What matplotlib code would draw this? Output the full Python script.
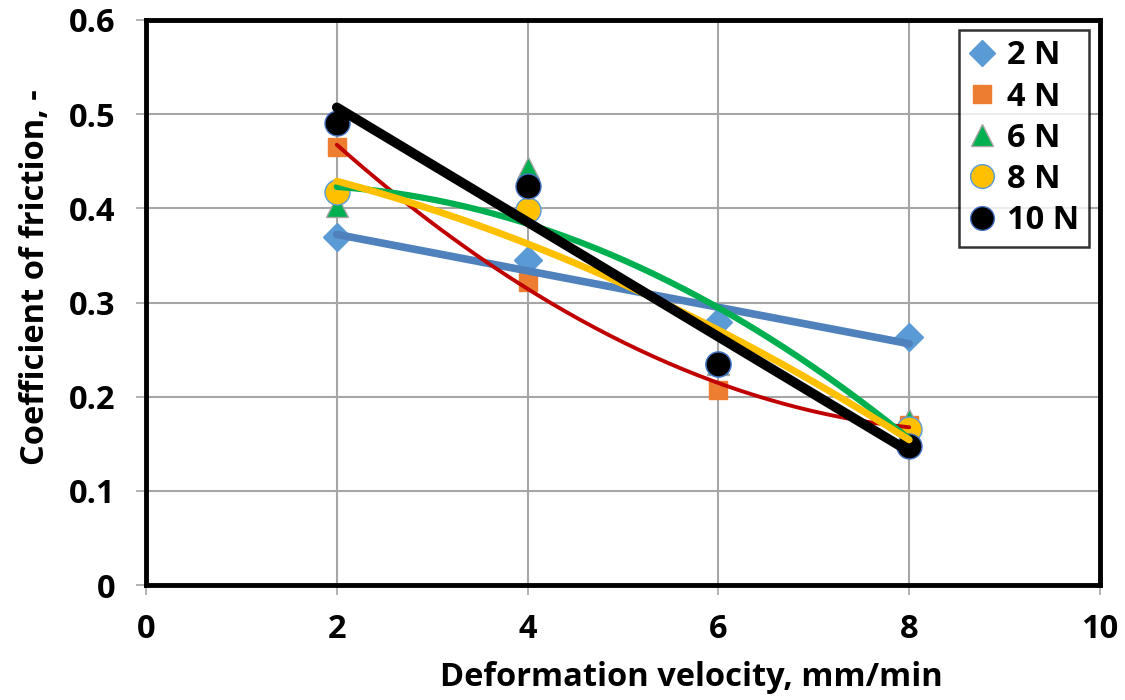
import numpy as np
import matplotlib
matplotlib.use("Agg")
import matplotlib.pyplot as plt

plt.rcParams['font.family'] = ['Open Sans', 'DejaVu Sans']
plt.rcParams['font.weight'] = 'bold'

velocity = [2, 4, 6, 8]
labels = ['2 N', '4 N', '6 N', '8 N', '10 N']
cof_2N = [0.370, 0.345, 0.279, 0.263]
cof_4N = [0.465, 0.322, 0.207, 0.170]
cof_6N = [0.403, 0.443, 0.235, 0.175]
cof_8N = [0.417, 0.398, 0.235, 0.166]
cof_10N = [0.491, 0.424, 0.235, 0.148]
trend_order = [1, 2, 2, 2, 1]

series = [cof_2N, cof_4N, cof_6N, cof_8N, cof_10N]
markers = ['D', 's', '^', 'o', 'o']
msizes = [14, 13, 16, 18, 18]
mfc = ['#5B9BD5', '#ED7D31', '#00B050', '#FFC000', '#000000']
mec = ['#5B9BD5', '#ED7D31', '#A5A5A5', '#5B9BD5', '#4472C4']
line_colors = ['#4F81BD', '#C00000', '#00B050', '#FFC000', '#000000']
line_widths = [5.5, 2.8, 4.5, 5.0, 7.0]

FS = 23.5

fig = plt.figure(figsize=(11.25, 7.0), dpi=100)
ax = fig.add_axes([146/1125, 1-585/700, (1100-146)/1125, (585-20)/700])

handles = []
for y, m, ms, fc, ec, lab in zip(series, markers, msizes, mfc, mec, labels):
    h, = ax.plot(velocity, y, linestyle='none', marker=m, markersize=ms,
                 markerfacecolor=fc, markeredgecolor=ec, markeredgewidth=1.0,
                 label=lab, zorder=3)
    handles.append(h)

xs = np.linspace(velocity[0], velocity[-1], 200)
for y, order, c, lw in zip(series, trend_order, line_colors, line_widths):
    coef = np.polyfit(velocity, y, order)
    ax.plot(xs, np.polyval(coef, xs), color=c, linewidth=lw,
            solid_capstyle='round', zorder=4)

ax.set_xlim(0, 10)
ax.set_ylim(0, 0.6)
ax.set_xticks([0, 2, 4, 6, 8, 10])
ax.set_yticks([0, 0.1, 0.2, 0.3, 0.4, 0.5, 0.6])
ax.set_xticklabels(['0', '2', '4', '6', '8', '10'])
ax.set_yticklabels(['0', '0.1', '0.2', '0.3', '0.4', '0.5', '0.6'])
ax.grid(True, color='#A6A6A6', linewidth=1.5, zorder=0)
ax.set_axisbelow(True)
for s in ax.spines.values():
    s.set_linewidth(3.5)
    s.set_color('black')
ax.tick_params(axis='both', which='major', direction='out', length=7,
               width=1.2, color='#A6A6A6', labelsize=FS)
ax.tick_params(axis='y', pad=15)
ax.tick_params(axis='x', pad=13)
for t in ax.get_xticklabels() + ax.get_yticklabels():
    t.set_fontweight('bold')

ax.set_xlabel('Deformation velocity, mm/min', fontsize=FS, fontweight='bold', labelpad=11)
ax.set_ylabel('Coefficient of friction, -', fontsize=FS, fontweight='bold', labelpad=12)
ax.xaxis.label.set_x(0.572)
ax.yaxis.label.set_y(0.545)

leg = ax.legend(handles=handles, loc='upper right', bbox_to_anchor=(0.988, 0.983),
                frameon=True, fancybox=False, edgecolor='black',
                handlelength=0.8, handletextpad=0.35, borderpad=0.3,
                labelspacing=0.25, markerscale=0.95, borderaxespad=0,
                prop={'weight': 'bold', 'size': FS})
leg.get_frame().set_linewidth(1.8)

fig.savefig('out.png', dpi=100)
